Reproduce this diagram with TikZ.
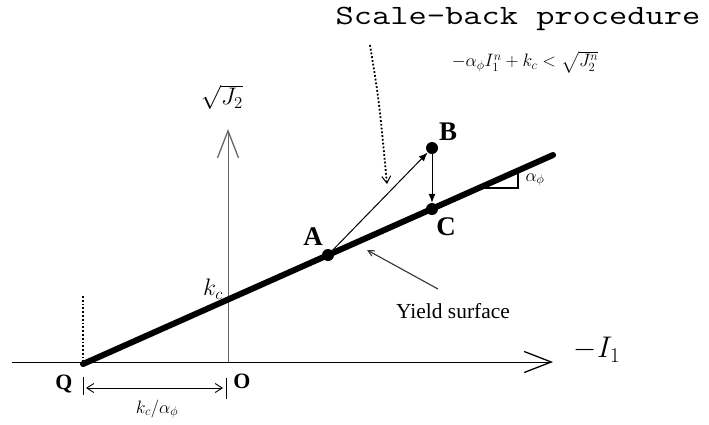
\RequirePackage{fix-cm}
\documentclass[tikz,border=0pt]{standalone}
\usepackage{amsmath,amssymb}
\usepackage{fontspec}
\setmainfont{Liberation Serif}
\usetikzlibrary{arrows.meta}

\begin{document}
\begin{tikzpicture}[x=1bp, y=-1bp,
	fs/.style={font=\fontsize{#1}{#1}\selectfont},
	pt/.style={circle, fill=black, inner sep=0pt, minimum size=12bp},
	ptlabel/.style={font=\fontsize{27}{27}\selectfont\bfseries, inner sep=0pt},
	axis/.style={line width=1bp, -{Straight Barb[length=27bp, width=21bp, line width=1.3bp]}},
	path arrow/.style={line width=1bp, -{Latex[length=9bp, width=7bp]}},
	pointer/.style={line width=1.1bp, black!80, -{Straight Barb[length=6bp, width=6bp]}}]
	\useasboundingbox (0,0) rectangle (709,424);
	% axes
	\coordinate (xl) at (12,362);
	\coordinate (xr) at (553,362);
	\coordinate (O) at (228,362);
	\coordinate (yt) at (228,129);
	\draw[axis] (xl) -- (xr);
	\draw[axis, black!60] (O) -- (yt);
	\node[fs=30, inner sep=0pt] (I1) at (597,350) {$-I_1$};
	\node[fs=24, inner sep=0pt] (J2) at (222,97) {$\sqrt{J_2}$};
	% yield surface
	\coordinate (Q) at (83,364);
	\coordinate (E) at (553,155);
	\draw[line width=6bp, line cap=round] (Q) -- (E);
	\draw[line width=1.5bp] (480,188) -- (518,188) -- (518,171);
	\node[fs=18, inner sep=0pt] (alpha) at (535,180) {$\alpha_\phi$};
	\node[fs=24, inner sep=0pt] (kc) at (213,289) {$k_c$};
	\draw[dotted, line width=1.8bp] (83,296) -- (Q);
	% points
	\node[pt] (A) at (328,255) {};
	\node[pt] (B) at (432,148) {};
	\node[pt] (C) at (432,209) {};
	\node[ptlabel] (Alab) at (313,237) {A};
	\node[ptlabel] (Blab) at (448,132) {B};
	\node[ptlabel] (Clab) at (446,227) {C};
	\draw[path arrow] (A) -- (B);
	\draw[path arrow] (B) -- (C);
	% distance Q--O
	\draw[line width=1bp] (83,377) -- (83,395);
	\draw[line width=1bp] (226,378) -- (226,399);
	\coordinate (dl) at (86,388);
	\coordinate (dr) at (223,388);
	\draw[line width=0.9bp, {Straight Barb[length=7bp, width=9bp]}-{Straight Barb[length=7bp, width=9bp]}] (dl) -- (dr);
	\node[font=\fontsize{22}{22}\selectfont\bfseries, inner sep=0pt] (Qlab) at (64,384) {Q};
	\node[font=\fontsize{22}{22}\selectfont\bfseries, inner sep=0pt] (Olab) at (242,381) {O};
	\node[fs=18, inner sep=0pt] (ratio) at (157,409) {$k_c/\alpha_\phi$};
	% annotations
	\node[fs=21.5, inner sep=0pt] (ys) at (453,311) {Yield surface};
	\coordinate (yp) at (438,289);
	\coordinate (yq) at (367,250);
	\draw[pointer] (yp) -- (yq);
	\node[font=\fontsize{28}{28}\selectfont\ttfamily, xscale=1.27, inner sep=0pt] (sb) at (518,19) {Scale-back procedure};
	\node[fs=18, inner sep=0pt] (cond) at (525,62) {$-\alpha_\phi I_1^n+k_c<\sqrt{J_2^n}$};
	\coordinate (ds) at (370,45);
	\coordinate (de) at (387,184);
	\draw[dotted, line width=1.8bp, -{Straight Barb[length=7bp, width=9bp, line width=1bp]}] (ds) .. controls (379,100) .. (de);
\end{tikzpicture}
\end{document}
